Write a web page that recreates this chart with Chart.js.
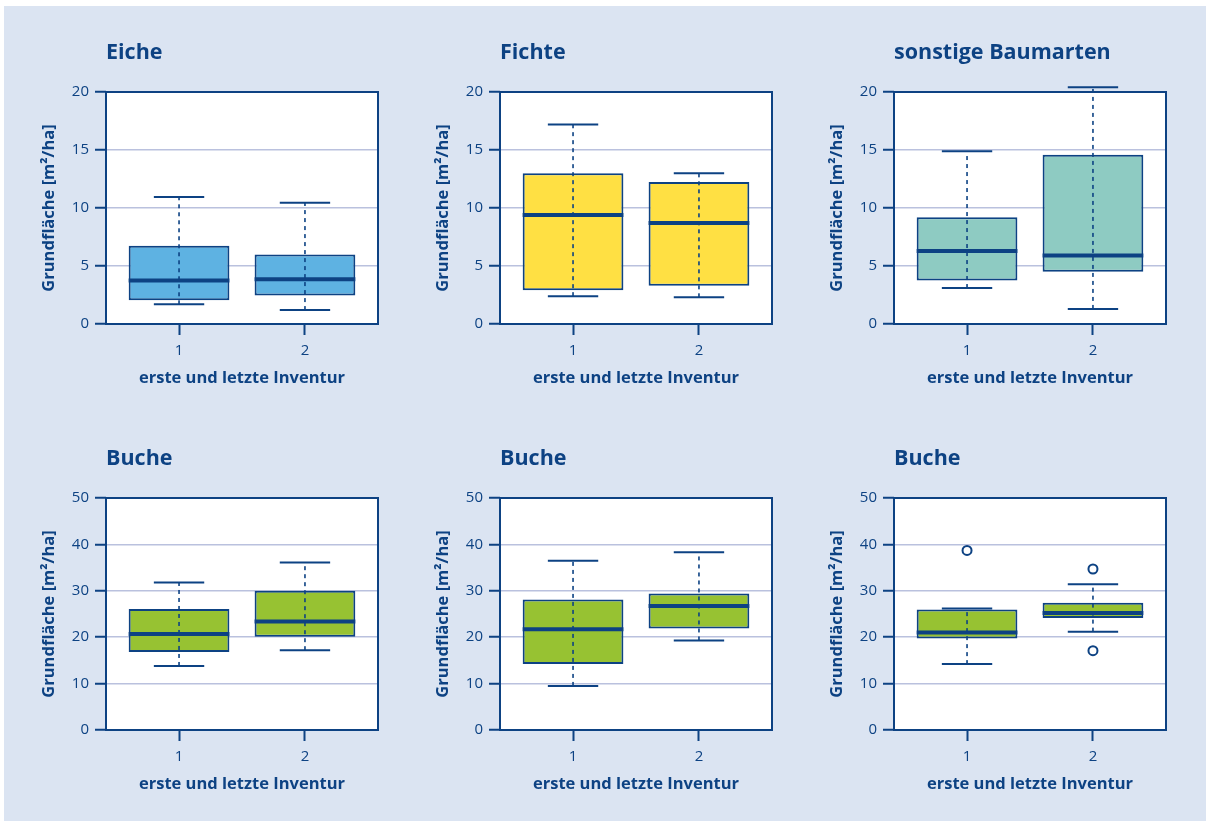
<!DOCTYPE html>
<html lang="de">
<head>
<meta charset="utf-8">
<title>Grundfläche – erste und letzte Inventur</title>
<script src="https://cdn.jsdelivr.net/npm/chart.js@4.4.1/dist/chart.umd.min.js"></script>
<style>
  html, body { margin: 0; padding: 0; background: #fff; }
  #bg { position: absolute; left: 4px; top: 6px; width: 1202px; height: 815px; background: #dbe4f2; }
  canvas { position: absolute; }
</style>
</head>
<body>
<div id="bg"></div>
<canvas id="c0" width="380" height="372" style="left:6px;top:22px"></canvas>
<canvas id="c1" width="380" height="372" style="left:400px;top:22px"></canvas>
<canvas id="c2" width="380" height="372" style="left:794px;top:22px"></canvas>
<canvas id="c3" width="380" height="372" style="left:6px;top:428px"></canvas>
<canvas id="c4" width="380" height="372" style="left:400px;top:428px"></canvas>
<canvas id="c5" width="380" height="372" style="left:794px;top:428px"></canvas>
<script>
// x-Werte: erste (1) und letzte (2) Inventur
const inventur = [1, 2];

// je Box: [unterer Whisker, Q1, Median, Q3, oberer Whisker]
const eiche = [[1.7, 2.05, 3.75, 6.75, 10.95], [1.2, 2.45, 3.85, 6.0, 10.45]];
const fichte = [[2.4, 2.9, 9.4, 13.0, 17.2], [2.3, 3.3, 8.7, 12.25, 13.0]];
const sonstige = [[3.1, 3.75, 6.3, 9.2, 14.9], [1.3, 4.5, 5.9, 14.6, 20.4]];
const buche1 = [[13.8, 16.8, 20.7, 26.1, 31.8], [17.2, 20.1, 23.4, 30.0, 36.1]];
const buche2 = [[9.5, 14.2, 21.7, 28.1, 36.5], [19.3, 21.9, 26.7, 29.4, 38.3]];
const buche3 = [[14.2, 19.7, 21.0, 25.95, 26.2], [21.2, 24.15, 25.2, 27.45, 31.4]];
const buche3Ausreisser = [[38.7], [34.7, 17.1]];

const titel = ["Eiche", "Fichte", "sonstige Baumarten", "Buche", "Buche", "Buche"];
const yMax = [20, 20, 20, 50, 50, 50];
const yStep = [5, 5, 5, 10, 10, 10];

const dunkel = "#0d4283";
const gitter = "#bac1de";
const fuellung = ["#5eb2e2", "#ffe043", "#8ecbc2", "#97c232", "#97c232", "#97c232"];
const schrift = "'Open Sans', 'DejaVu Sans', sans-serif";

const panels = [
  { stats: eiche, ausreisser: null },
  { stats: fichte, ausreisser: null },
  { stats: sonstige, ausreisser: null },
  { stats: buche1, ausreisser: null },
  { stats: buche2, ausreisser: null },
  { stats: buche3, ausreisser: buche3Ausreisser }
];

const boxplotPlugin = {
  id: "boxplot",
  beforeDraw(chart) {
    const { ctx, chartArea: a } = chart;
    ctx.save();
    ctx.fillStyle = "#ffffff";
    ctx.fillRect(a.left, a.top, a.right - a.left, a.bottom - a.top);
    ctx.restore();
  },
  afterDatasetsDraw(chart, args, opts) {
    const { ctx, scales: { x, y } } = chart;
    opts.stats.forEach((s, i) => {
      const xv = inventur[i];
      const xp = x.getPixelForValue(xv);
      ctx.save();
      ctx.strokeStyle = dunkel;
      // gestrichelter Whisker
      ctx.lineWidth = 1.6;
      ctx.setLineDash([4, 4]);
      ctx.beginPath();
      ctx.moveTo(xp, y.getPixelForValue(s[0]));
      ctx.lineTo(xp, y.getPixelForValue(s[4]));
      ctx.stroke();
      ctx.setLineDash([]);
      // Endstriche
      ctx.lineWidth = 2;
      [s[0], s[4]].forEach(v => {
        const yp = y.getPixelForValue(v);
        ctx.beginPath();
        ctx.moveTo(x.getPixelForValue(xv - 0.2), yp);
        ctx.lineTo(x.getPixelForValue(xv + 0.2), yp);
        ctx.stroke();
      });
      // Median
      ctx.lineWidth = 4;
      const ym = y.getPixelForValue(s[2]);
      ctx.beginPath();
      ctx.moveTo(x.getPixelForValue(xv - 0.4), ym);
      ctx.lineTo(x.getPixelForValue(xv + 0.4), ym);
      ctx.stroke();
      ctx.restore();
    });
  },
  afterDraw(chart, args, opts) {
    const { ctx, chartArea: a } = chart;
    ctx.save();
    ctx.strokeStyle = dunkel;
    ctx.lineWidth = 2;
    ctx.strokeRect(a.left, a.top, a.right - a.left, a.bottom - a.top);
    ctx.fillStyle = dunkel;
    ctx.font = "bold 21.5px " + schrift;
    ctx.textBaseline = "alphabetic";
    ctx.textAlign = "left";
    ctx.fillText(opts.titel, a.left, a.top - 33);
    ctx.restore();
  }
};

panels.forEach((p, k) => {
  const datasets = [{
    type: "bar",
    data: inventur.map((xv, i) => ({ x: xv, y: [p.stats[i][1], p.stats[i][3]] })),
    backgroundColor: fuellung[k],
    borderColor: dunkel,
    borderWidth: 2,
    borderSkipped: false,
    barPercentage: 0.8,
    categoryPercentage: 1
  }];
  if (p.ausreisser) {
    datasets.push({
      type: "scatter",
      data: p.ausreisser.flatMap((werte, i) => werte.map(v => ({ x: inventur[i], y: v }))),
      pointRadius: 4.5,
      pointBorderWidth: 2,
      pointBackgroundColor: "#ffffff",
      pointBorderColor: dunkel
    });
  }

  new Chart(document.getElementById("c" + k), {
    type: "bar",
    data: { datasets },
    plugins: [boxplotPlugin],
    options: {
      responsive: false,
      animation: false,
      events: [],
      layout: { padding: { top: 70, right: 8, left: 0, bottom: 0 } },
      plugins: {
        legend: { display: false },
        tooltip: { enabled: false },
        boxplot: { stats: p.stats, titel: titel[k] }
      },
      scales: {
        x: {
          type: "linear",
          min: 0.42,
          max: 2.58,
          offset: false,
          afterBuildTicks: s => { s.ticks = inventur.map(v => ({ value: v })); },
          afterFit: s => { s.height = 70; },
          ticks: { color: dunkel, font: { family: schrift, size: 15 }, padding: 7 },
          grid: { offset: false, drawOnChartArea: false, drawTicks: true, tickLength: 11, tickWidth: 2, tickColor: dunkel },
          border: { display: false },
          title: {
            display: true,
            text: "erste und letzte Inventur",
            color: dunkel,
            font: { family: schrift, size: 16.5, weight: "bold" },
            padding: { top: 0, bottom: 6 }
          }
        },
        y: {
          min: 0,
          max: yMax[k],
          afterFit: s => { s.width = 100; },
          ticks: { stepSize: yStep[k], color: dunkel, font: { family: schrift, size: 15 }, padding: 6 },
          grid: { color: gitter, lineWidth: 1.5, drawTicks: true, tickLength: 11, tickWidth: 2, tickColor: dunkel },
          border: { display: false },
          title: {
            display: true,
            text: "Grundfläche [m²/ha]",
            color: dunkel,
            font: { family: schrift, size: 16.5, weight: "bold" },
            padding: { top: 33, bottom: 0 }
          }
        }
      }
    }
  });
});
</script>
</body>
</html>
